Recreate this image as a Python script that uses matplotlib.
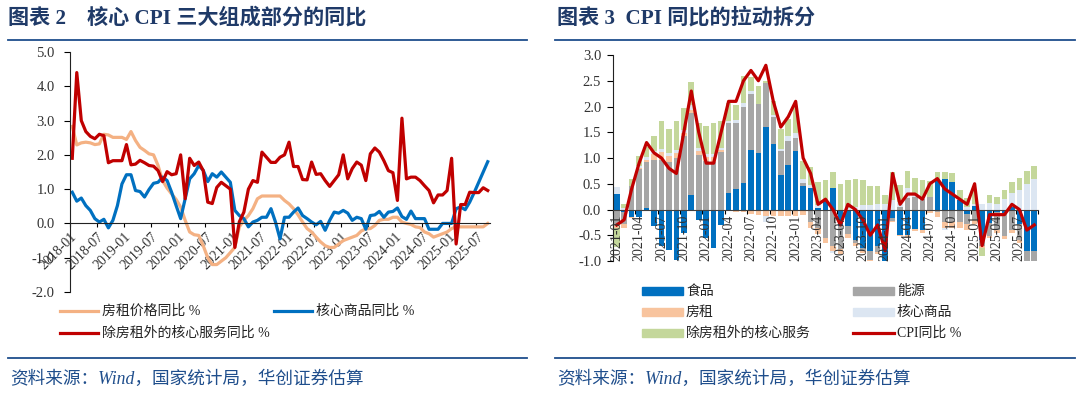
import matplotlib
matplotlib.use("Agg")
import matplotlib.pyplot as plt
import numpy as np
from matplotlib.lines import Line2D
from matplotlib.patches import Rectangle

CJK = ["Liberation Serif", "Noto Sans CJK SC", "DejaVu Sans"]
NAVY = "#1F3A68"
RULE = "#1F4E8C"

# ---- chart 2: core CPI components yoy, 2018-01 .. 2025-09 ----
core_months = [f"{y}-{m:02d}" for y in range(2018, 2026) for m in range(1, 13)][:93]

rent_yoy = [2.83, 2.29, 2.35, 2.37, 2.35, 2.3, 2.32, 2.6, 2.58, 2.51, 2.51, 2.51,
            2.45, 2.68, 2.42, 2.22, 2.13, 2.03, 2.0, 1.69, 1.25, 1.03, 0.86, 0.7,
            0.48, 0.09, -0.25, -0.33, -0.35, -0.65, -1.0, -1.2, -1.2, -1.1, -1.0, -0.85,
            -0.7, -0.1, 0.09, 0.23, 0.43, 0.72, 0.8, 0.8, 0.8, 0.8, 0.8, 0.67,
            0.57, 0.43, 0.25, 0.04, -0.15, -0.25, -0.4, -0.54, -0.65, -0.7, -0.7, -0.6,
            -0.5, -0.45, -0.4, -0.35, -0.22, -0.16, -0.15, -0.06, 0.09, 0.12, 0.12, 0.18,
            0.18, 0.04, 0.0, -0.03, -0.1, -0.12, -0.25, -0.3, -0.4, -0.35, -0.3, -0.25,
            -0.15, -0.1, -0.1, -0.1, -0.1, -0.1, -0.1, -0.1, 0.0]

goods_yoy = [0.91, 0.65, 0.74, 0.52, 0.38, 0.14, 0.04, 0.12, -0.13, 0.09, 0.52, 1.15,
             1.42, 1.42, 0.96, 0.93, 0.77, 0.99, 1.17, 1.2, 1.35, 1.25, 0.91, 0.52,
             0.14, 0.72, 1.3, 1.45, 1.69, 1.55, 1.22, 1.45, 1.35, 1.5, 1.35, 1.2,
             0.38, 0.23, 0.14, -0.1, 0.04, 0.09, 0.18, 0.18, 0.43, 0.04, -0.45, 0.18,
             0.18, 0.33, 0.45, 0.23, 0.14, 0.04, -0.04, 0.06, -0.2, 0.09, 0.33, 0.3,
             0.38, 0.3, 0.09, 0.18, 0.14, -0.17, 0.23, 0.25, 0.35, 0.18, 0.33, 0.35,
             0.45, 0.2, 0.12, 0.36, 0.14, 0.14, 0.14, -0.17, -0.17, -0.17, 0.0, 0.0,
             0.0, 0.43, 0.48, 0.4, 0.62, 0.9, 1.2, 1.5, 1.8]

services_yoy = [1.9, 4.4, 3.0, 2.68, 2.54, 2.47, 2.6, 2.56, 1.77, 1.83, 1.83, 1.83,
                2.3, 1.71, 1.73, 1.84, 1.77, 1.69, 1.67, 1.54, 1.22, 1.51, 1.42, 1.45,
                2.0, 0.72, 1.9, 1.69, 1.79, 1.54, 0.62, 0.58, 1.05, 1.2, 1.1, 1.0,
                -0.7, 0.05, 0.33, 1.0, 1.25, 1.2, 2.08, 1.93, 1.78, 1.78, 1.93, 2.0,
                2.37, 1.66, 1.66, 1.28, 1.27, 1.79, 1.43, 1.45, 1.25, 1.08, 1.25, 1.42,
                2.0, 1.3, 1.6, 1.79, 1.7, 1.25, 2.03, 2.2, 2.08, 1.83, 1.54, 1.48,
                0.67, 3.07, 1.3, 1.35, 1.35, 1.25, 1.1, 0.96, 0.6, 0.83, 0.83, 0.96,
                1.9, -0.6, 0.55, 0.55, 0.91, 0.9, 0.9, 1.04, 0.96]

core_labels = ["房租价格同比 %", "核心商品同比 %", "除房租外的核心服务同比 %"]
core_colors = ["#F4B183", "#0070C0", "#C00000"]

# ---- chart 3: CPI yoy pull decomposition, 2021-01 .. 2025-09 ----
cpi_months = [f"{y}-{m:02d}" for y in range(2021, 2026) for m in range(1, 13)][:57]

cpi_yoy = [-0.3, -0.2, 0.4, 0.9, 1.3, 1.1, 1.0, 0.8, 0.7, 1.5, 2.3, 1.5,
           0.9, 0.9, 1.5, 2.1, 2.1, 2.5, 2.7, 2.5, 2.8, 2.1, 1.6, 1.8,
           2.1, 1.0, 0.7, 0.1, 0.2, 0.0, -0.3, 0.1, 0.0, -0.2, -0.5, -0.3,
           -0.8, 0.7, 0.1, 0.3, 0.3, 0.2, 0.5, 0.6, 0.4, 0.3, 0.2, 0.1,
           0.5, -0.7, -0.1, -0.1, -0.1, 0.1, 0.0, -0.4, -0.3]

food = [0.30, -0.04, -0.15, -0.15, 0.03, -0.33, -0.70, -0.78, -0.98, -0.45, 0.28, -0.20,
        -0.55, -0.75, -0.30, 0.33, 0.40, 0.52, 1.15, 1.10, 1.60, 1.27, 0.67, 0.87,
        1.13, 0.45, 0.42, 0.03, 0.19, 0.42, -0.32, -0.32, -0.60, -0.75, -0.80, -0.70,
        -1.10, -0.17, -0.50, -0.50, -0.37, -0.39, 0.0, 0.55, 0.60, 0.53, 0.18, -0.09,
        0.07, -0.60, -0.26, -0.04, -0.07, 0.05, -0.29, -0.80, -0.80]

energy = [-0.28, -0.25, 0.45, 0.78, 0.90, 0.97, 0.97, 0.92, 1.00, 1.43, 1.60, 1.05,
          0.95, 0.93, 1.12, 1.34, 1.27, 1.48, 1.10, 0.95, 0.85, 0.53, 0.46, 0.46,
          0.25, 0.07, -0.25, -0.35, -0.55, -0.70, -0.45, -0.15, -0.05, -0.05, -0.18, -0.12,
          -0.08, -0.05, 0.05, 0.22, 0.25, 0.20, 0.25, -0.05, -0.25, -0.25, -0.25, -0.20,
          -0.20, -0.10, -0.25, -0.35, -0.45, -0.40, -0.30, -0.25, -0.25]

rent = [-0.07, -0.06, -0.02, 0.02, 0.04, 0.10, 0.15, 0.12, 0.10, 0.06, 0.06, 0.08,
        0.07, 0.08, 0.04, -0.03, -0.04, -0.05, -0.08, -0.10, -0.12, -0.12, -0.12, -0.12,
        -0.12, -0.10, -0.10, -0.12, -0.10, -0.10, -0.10, -0.08, -0.06, -0.05, -0.05, -0.04,
        -0.03, -0.02, -0.02, -0.03, -0.05, -0.06, -0.07, -0.10, -0.10, -0.10, -0.10, -0.10,
        -0.08, -0.05, -0.05, -0.06, -0.06, -0.06, -0.06, -0.04, -0.03]

goods = [0.13, 0.02, 0.0, 0.04, 0.05, 0.06, 0.05, 0.06, 0.05, 0.06, 0.08, 0.07,
         0.06, 0.07, 0.03, 0.05, 0.06, 0.06, 0.05, 0.0, -0.12, 0.03, 0.05, 0.09,
         0.10, 0.08, 0.05, 0.05, 0.0, -0.05, 0.0, 0.02, 0.05, 0.08, 0.08, 0.10,
         0.10, 0.18, 0.10, 0.20, 0.05, 0.05, 0.0, 0.02, -0.05, 0.0, 0.03, 0.05,
         0.03, 0.10, 0.12, 0.10, 0.20, 0.28, 0.38, 0.50, 0.60]

services = [-0.38, 0.08, 0.15, 0.20, 0.20, 0.29, 0.54, 0.47, 0.56, 0.43, 0.45, 0.48,
            0.55, 0.59, 0.52, 0.34, 0.29, 0.54, 0.28, 0.35, 0.05, 0.27, 0.39, 0.33,
            0.52, 0.35, 0.35, 0.45, 0.38, 0.30, 0.50, 0.55, 0.55, 0.50, 0.38, 0.36,
            0.18, 0.55, 0.32, 0.33, 0.32, 0.33, 0.30, 0.15, 0.12, 0.17, 0.17, 0.17,
            0.25, -0.15, 0.17, 0.15, 0.18, 0.20, 0.24, 0.25, 0.25]

part_labels = ["食品", "能源", "房租", "核心商品", "除房租外的核心服务"]
part_colors = ["#0070C0", "#A6A6A6", "#F8C49E", "#DCE6F2", "#C4D79B"]


def fx(px):
    return px / 1080


def fy(py):
    return 1 - py / 394


fig = plt.figure(figsize=(10.8, 3.94), dpi=100)

# titles and rules
fig.text(fx(8), fy(18), "图表 2    核心 CPI 三大组成部分的同比", family=CJK,
         fontsize=15.2, fontweight="bold", color=NAVY, va="center")
fig.text(fx(557), fy(18), "图表 3  CPI 同比的拉动拆分", family=CJK,
         fontsize=15.2, fontweight="bold", color=NAVY, va="center")
for x0, x1 in [(8, 527), (555, 1075)]:
    for yy in (40, 358):
        fig.add_artist(Line2D([fx(x0), fx(x1)], [fy(yy), fy(yy)], color=RULE, lw=1.3))
    fig.text(fx(x0 + 2), fy(379), "资料来源：Wind，国家统计局，华创证券估算", family=CJK,
             fontsize=12.7, style="italic", color="#1F4E8C", va="center")

# ---- left chart ----
ax1 = fig.add_axes([fx(70), fy(292), fx(420), 240 / 394])
x1 = np.arange(len(core_months)) + 0.5
for vals, col in zip([rent_yoy, goods_yoy, services_yoy], core_colors):
    ax1.plot(x1, vals, color=col, lw=2.3)
ax1.set_xlim(0, len(core_months))
ax1.set_ylim(-2, 5)
for s in ("top", "right"):
    ax1.spines[s].set_visible(False)
ax1.spines["bottom"].set_position(("data", 0))
ax1.spines["bottom"].set_color("#222222")
ax1.spines["left"].set_color("#222222")
ax1.set_xticks(np.arange(0, len(core_months), 6))
ax1.set_xticklabels(core_months[::6], rotation=45, ha="right", rotation_mode="anchor",
                    family="Liberation Serif", fontsize=10, color="#333333")
ax1.set_yticks(np.arange(-2, 5.01, 1))
ax1.set_yticklabels([f"{v:.1f}" for v in np.arange(-2, 5.01, 1)],
                    family="Liberation Serif", fontsize=10.5, color="#333333")
ax1.tick_params(axis="x", length=3, pad=2)
ax1.tick_params(axis="y", length=4, pad=7)

# left legend
leg1 = [(60, 311), (274, 311), (60, 333)]
for (lx, ly), lab, col in zip(leg1, core_labels, core_colors):
    fig.add_artist(Line2D([fx(lx), fx(lx + 38)], [fy(ly), fy(ly)], color=col, lw=2.3))
    fig.text(fx(lx + 42), fy(ly), lab, family=CJK, fontsize=10, va="center", color="#222222")

# ---- right chart ----
ax2 = fig.add_axes([fx(613), fy(261), fx(425), 206 / 394])
x2 = np.arange(len(cpi_months)) + 0.5
pos_base = np.zeros(len(cpi_months))
neg_base = np.zeros(len(cpi_months))
for vals, col in zip([food, energy, rent, goods, services], part_colors):
    v = np.array(vals)
    base = np.where(v >= 0, pos_base, neg_base)
    ax2.bar(x2, v, bottom=base, width=0.75, color=col, zorder=2)
    pos_base += np.clip(v, 0, None)
    neg_base += np.clip(v, None, 0)
ax2.plot(x2, cpi_yoy, color="#C00000", lw=2.3, zorder=4)
ax2.set_xlim(0, len(cpi_months))
ax2.set_ylim(-1, 3)
for s in ("top", "right"):
    ax2.spines[s].set_visible(False)
ax2.spines["bottom"].set_position(("data", 0))
ax2.spines["bottom"].set_color("#404040")
ax2.spines["bottom"].set_zorder(3)
ax2.spines["left"].set_color("#222222")
ax2.set_xticks(np.arange(0, len(cpi_months) + 1, 3))
ax2.set_xticklabels([])
ax2.tick_params(axis="x", length=3)
ax2.set_yticks(np.arange(-1, 3.01, 0.5))
ax2.set_yticklabels([f"{v:.1f}" for v in np.arange(-1, 3.01, 0.5)],
                    family="Liberation Serif", fontsize=10.5, color="#333333")
ax2.tick_params(axis="y", length=4, pad=4.5)
for i in range(0, len(cpi_months), 3):
    ax2.text(x2[i], -1.0, cpi_months[i], rotation=90, ha="center", va="bottom",
             family="Liberation Serif", fontsize=10, color="#333333", zorder=5)

# right legend
leg2 = [(642, 291), (853, 291), (642, 312), (853, 312), (642, 333)]
for (lx, ly), lab, col in zip(leg2, part_labels, part_colors):
    fig.add_artist(Rectangle((fx(lx), fy(ly + 4)), fx(41), 8 / 394, color=col,
                             transform=fig.transFigure))
    fig.text(fx(lx + 44), fy(ly), lab, family=CJK, fontsize=10, va="center", color="#222222")
fig.add_artist(Line2D([fx(853), fx(894)], [fy(333), fy(333)], color="#C00000", lw=2.3))
fig.text(fx(897), fy(333), "CPI同比 %", family=CJK, fontsize=10, va="center", color="#222222")

fig.savefig("out.png", dpi=100)
